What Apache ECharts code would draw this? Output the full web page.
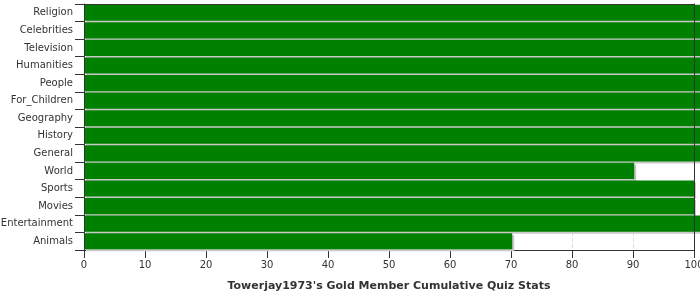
<!DOCTYPE html>
<html>
<head>
<meta charset="utf-8">
<script src="https://cdn.jsdelivr.net/npm/echarts@6/dist/echarts.min.js"></script>
<style>
  html, body { margin: 0; padding: 0; background: #fff; }
  #chart { width: 700px; height: 300px; }
</style>
</head>
<body>
<div id="chart"></div>
<script>
    // categories top to bottom
    var categories = ['Religion', 'Celebrities', 'Television', 'Humanities', 'People',
        'For_Children', 'Geography', 'History', 'General', 'World', 'Sports',
        'Movies', 'Entertainment', 'Animals'];
    // percent scores (bars past 100 run off the plot)
    var scores = [102, 102, 102, 102, 102, 102, 102, 102, 102, 90.2, 100, 100, 102, 70.2];
    var xTicks = [0, 10, 20, 30, 40, 50, 60, 70, 80, 90, 100];
    var chartTitle = "Towerjay1973's Gold Member Cumulative Quiz Stats";

    var chart = echarts.init(document.getElementById('chart'));
    var axisColor = '#333';

    chart.setOption({
        animation: false,
        grid: { left: 84, right: 6, top: 4, bottom: 50, outerBoundsMode: 'none', containLabel: false },
        xAxis: [{
            type: 'value',
            min: xTicks[0],
            max: xTicks[xTicks.length - 1],
            interval: 10,
            name: chartTitle,
            nameLocation: 'middle',
            nameGap: 31,
            nameTextStyle: { fontFamily: 'DejaVu Sans', fontSize: 11, fontWeight: 'bold', color: axisColor },
            axisLine: { show: true, lineStyle: { color: axisColor } },
            axisTick: { show: true, length: 8, lineStyle: { color: axisColor } },
            axisLabel: { fontFamily: 'DejaVu Sans', fontSize: 10, color: axisColor, margin: 10 },
            splitLine: { show: true, lineStyle: { color: '#ddd', type: 'dashed' } }
        }, {
            type: 'value',
            position: 'top',
            min: 0,
            max: 100,
            axisLine: { show: true, lineStyle: { color: axisColor } },
            axisTick: { show: false },
            axisLabel: { show: false },
            splitLine: { show: false },
            z: 10
        }],
        yAxis: [{
            type: 'category',
            data: categories,
            inverse: true,
            axisLine: { show: true, lineStyle: { color: axisColor } },
            axisTick: { show: true, length: 9, lineStyle: { color: axisColor } },
            axisLabel: { fontFamily: 'DejaVu Sans', fontSize: 10, color: axisColor, margin: 11 },
            z: 10
        }, {
            type: 'category',
            data: categories,
            inverse: true,
            position: 'right',
            axisLine: { show: true, onZero: false, lineStyle: { color: axisColor } },
            axisTick: { show: false },
            axisLabel: { show: false },
            z: 10
        }],
        series: [{
            type: 'bar',
            data: scores,
            clip: false,
            barCategoryGap: '8%',
            itemStyle: {
                color: '#008000',
                shadowColor: '#c8c8c8',
                shadowOffsetX: 2,
                shadowOffsetY: 2,
                shadowBlur: 0
            }
        }]
    });
</script>
</body>
</html>
